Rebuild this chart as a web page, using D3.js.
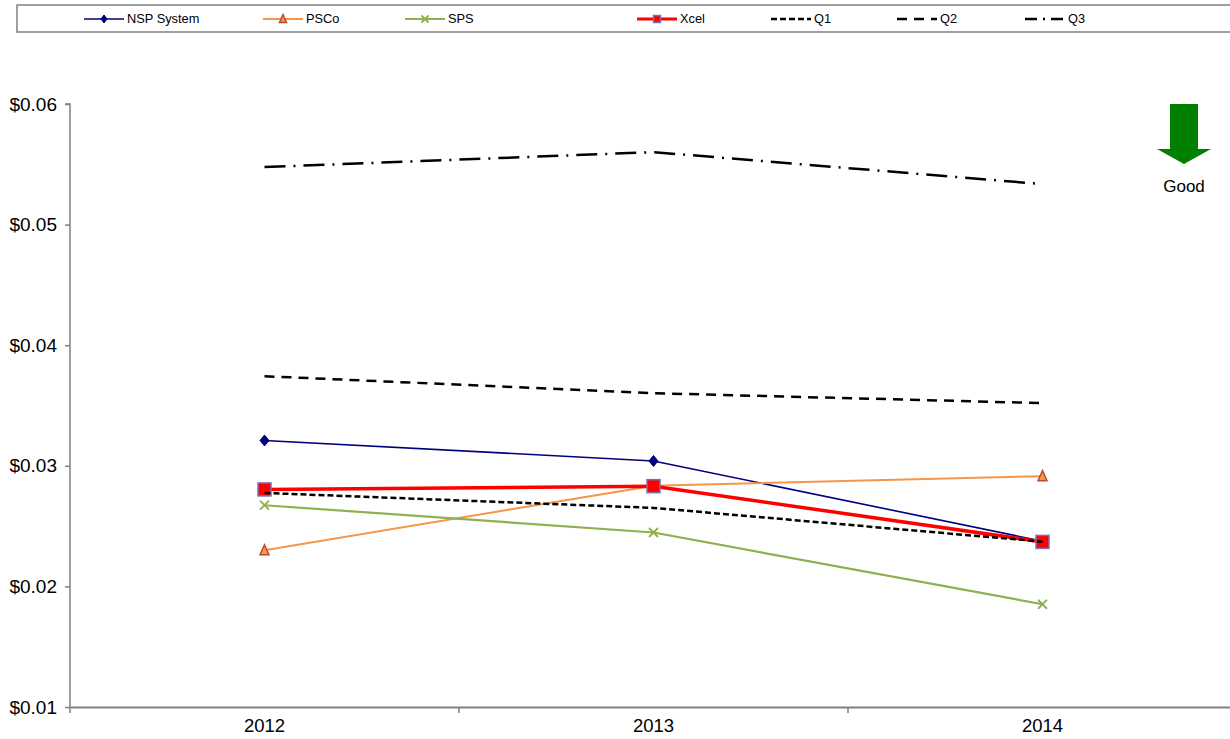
<!DOCTYPE html>
<html>
<head>
<meta charset="utf-8">
<script src="https://cdn.jsdelivr.net/npm/d3@7"></script>
<style>
  html, body { margin: 0; padding: 0; background: #fff; }
  svg { display: block; font-family: "Liberation Sans", Arial, sans-serif; }
</style>
</head>
<body>
<svg id="chart" width="1230" height="739"></svg>
<script>
// ---- data ----
const years = ["2012", "2013", "2014"];
const nspSystem = [0.0321, 0.0304, 0.02375];
const psco = [0.0230, 0.02835, 0.02914];
const sps = [0.02673, 0.02447, 0.01852];
const xcel = [0.02804, 0.02831, 0.02369];
const q1 = [0.02775, 0.02651, 0.02371];
const q2 = [0.03743, 0.03602, 0.0352];
const q3 = [0.05477, 0.05601, 0.05336];
const yTicks = [0.01, 0.02, 0.03, 0.04, 0.05, 0.06];
const seriesNames = ["NSP System", "PSCo", "SPS", "Xcel", "Q1", "Q2", "Q3"];
const annotationText = "Good";

// ---- styles ----
const styles = {
  "NSP System": { color: "#000080", width: 1.6, dash: null, marker: "diamond", mFill: "#000080", mStroke: "#000080", mSize: 9, lSize: 6 },
  "PSCo": { color: "#f79646", width: 2, dash: null, marker: "triangle", mFill: "#f79646", mStroke: "#b94a3a", mSize: 9, lSize: 7 },
  "SPS": { color: "#8fb04e", width: 2.2, dash: null, marker: "x", mFill: "none", mStroke: "#8fb04e", mSize: 9, lSize: 7 },
  "Xcel": { color: "#ff0000", width: 3.5, dash: null, marker: "square", mFill: "#ff0000", mStroke: "#7f6fb0", mSize: 13, lSize: 7 },
  "Q1": { color: "#000000", width: 2.5, dash: "6,3", marker: null },
  "Q2": { color: "#000000", width: 2.5, dash: "10,7", marker: null },
  "Q3": { color: "#000000", width: 2.5, dash: "21,8,2,8", marker: null }
};
const seriesValues = { "NSP System": nspSystem, "PSCo": psco, "SPS": sps, "Xcel": xcel, "Q1": q1, "Q2": q2, "Q3": q3 };
const legendX = [84, 263, 405, 637, 771, 897, 1025];

const svg = d3.select("#chart");
const plot = { left: 70, right: 1237, top: 104, bottom: 707 };

const x = d3.scaleBand().domain(years).range([plot.left, plot.right]).padding(0);
const xc = d => x(d) + x.bandwidth() / 2;
const y = d3.scaleLinear().domain([0.01, 0.06]).range([plot.bottom, plot.top]);

// ---- axes ----
const axisColor = "#808080";
const yAxis = svg.append("g").attr("transform", `translate(${plot.left},0)`)
  .call(d3.axisLeft(y).tickValues(yTicks).tickFormat(d3.format("$.2f")).tickSize(5).tickPadding(8));
yAxis.select(".domain").attr("stroke", axisColor).attr("stroke-width", 1.5).attr("d", `M-5,${plot.top}H0V${plot.bottom}`);
yAxis.selectAll(".tick line").attr("stroke", axisColor).attr("stroke-width", 1.5);
yAxis.selectAll(".tick text").attr("font-size", 19).attr("fill", "#000").attr("font-family", "Liberation Sans, Arial, sans-serif");

const xAxis = svg.append("g").attr("transform", `translate(0,${plot.bottom})`)
  .call(d3.axisBottom(x).tickSize(0).tickPadding(12));
xAxis.select(".domain").attr("stroke", axisColor).attr("stroke-width", 2);
xAxis.selectAll(".tick text").attr("font-size", 18.5).attr("fill", "#000").attr("font-family", "Liberation Sans, Arial, sans-serif");
// category boundary ticks
xAxis.selectAll("line.bound").data(years.slice(1)).enter().append("line")
  .attr("class", "bound")
  .attr("x1", d => x(d)).attr("x2", d => x(d))
  .attr("y1", 0).attr("y2", 6)
  .attr("stroke", axisColor).attr("stroke-width", 1.5);
xAxis.append("line").attr("x1", plot.left).attr("x2", plot.left).attr("y1", 0).attr("y2", 6)
  .attr("stroke", axisColor).attr("stroke-width", 1.5);

// ---- marker drawing ----
function drawMarker(g, type, cx, cy, size, fill, stroke) {
  const h = size / 2;
  if (type === "diamond") {
    g.append("path").attr("d", `M${cx},${cy - h - 1}L${cx + h},${cy}L${cx},${cy + h + 1}L${cx - h},${cy}Z`)
      .attr("fill", fill).attr("stroke", stroke).attr("stroke-width", 1);
  } else if (type === "triangle") {
    g.append("path").attr("d", `M${cx},${cy - h - 1}L${cx + h},${cy + h}L${cx - h},${cy + h}Z`)
      .attr("fill", fill).attr("stroke", stroke).attr("stroke-width", 1.5);
  } else if (type === "x") {
    g.append("path").attr("d", `M${cx - h},${cy - h}L${cx + h},${cy + h}M${cx - h},${cy + h}L${cx + h},${cy - h}`)
      .attr("fill", "none").attr("stroke", stroke).attr("stroke-width", 1.8);
  } else if (type === "square") {
    g.append("rect").attr("x", cx - h).attr("y", cy - h).attr("width", size).attr("height", size)
      .attr("fill", fill).attr("stroke", stroke).attr("stroke-width", 1.5);
  }
}

// ---- series ----
const line = d3.line().x((d, i) => xc(years[i])).y(d => y(d));
seriesNames.forEach(name => {
  const s = styles[name];
  const vals = seriesValues[name];
  const g = svg.append("g");
  g.append("path").datum(vals).attr("d", line)
    .attr("fill", "none").attr("stroke", s.color).attr("stroke-width", s.width)
    .attr("stroke-dasharray", s.dash).attr("stroke-linejoin", "round");
  if (s.marker) {
    vals.forEach((v, i) => drawMarker(g, s.marker, xc(years[i]), y(v), s.mSize, s.mFill, s.mStroke));
  }
});

// ---- legend ----
const legend = svg.append("g");
legend.append("rect").attr("x", 17).attr("y", 5).attr("width", 1240).attr("height", 27)
  .attr("fill", "#fff").attr("stroke", axisColor).attr("stroke-width", 1.5);
seriesNames.forEach((name, i) => {
  const s = styles[name];
  const lx = legendX[i], ly = 19;
  legend.append("line").attr("x1", lx).attr("x2", lx + 40).attr("y1", ly).attr("y2", ly)
    .attr("stroke", s.color).attr("stroke-width", s.dash ? 2.5 : Math.min(s.width, 3))
    .attr("stroke-dasharray", s.dash ? (name === "Q3" ? "12,6,2,6" : s.dash) : null);
  if (s.marker) drawMarker(legend, s.marker, lx + 20, ly, s.lSize, s.mFill, s.mStroke);
  legend.append("text").attr("x", lx + 43).attr("y", ly).attr("dy", "0.35em")
    .attr("font-size", 12.8).attr("fill", "#000").text(name);
});

// ---- "Good" arrow annotation ----
const arrow = svg.append("g");
arrow.append("path")
  .attr("d", "M1170,104H1198V149H1211L1184,164L1157,149H1170Z")
  .attr("fill", "#008000");
arrow.append("text").attr("x", 1184).attr("y", 192).attr("text-anchor", "middle")
  .attr("font-size", 17).attr("fill", "#000").text(annotationText);
</script>
</body>
</html>
